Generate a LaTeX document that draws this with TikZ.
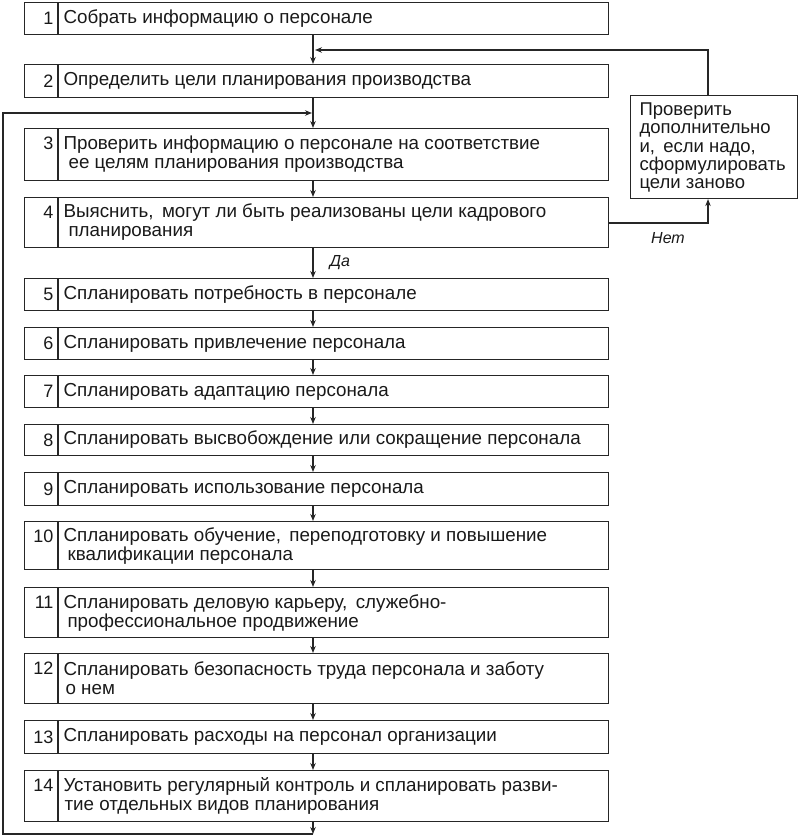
\documentclass[tikz,border=0pt]{standalone}
\usepackage{fontspec}
\setmainfont{Liberation Sans}
\usetikzlibrary{arrows.meta}
\begin{document}
\begin{tikzpicture}[x=1pt,y=-1pt,
  line width=1.1pt, color=black!85,
  box/.style={draw=black!85, rectangle, inner sep=0pt, anchor=north west, minimum width=584pt},
  txt/.style={inner sep=0pt, anchor=west, align=left, text=black!90, font=\fontsize{18.8}{19}\selectfont},
  num/.style={inner sep=0pt, anchor=east, text=black!90, font=\fontsize{18}{19}\selectfont},
  lbl/.style={inner sep=0pt, text=black!90, font=\fontsize{16}{18}\selectfont\itshape},
  arr/.style={-{Stealth[length=7pt,width=5.5pt]}}]
\useasboundingbox (0,0) rectangle (799,838);
\newcommand\onebox[5]{%
  \node[box, minimum height=#4pt] (#1) at (24,#3) {};
  \draw ([xshift=34pt]#1.north west) -- ([xshift=34pt]#1.south west);
  \node[num] (#1n) at ([xshift=30pt]#1.west) {#2};
  \node[txt] (#1t) at ([xshift=39pt]#1.west) {#5};}
\newcommand\twobox[5]{%
  \node[box, minimum height=#4pt] (#1) at (24,#3) {};
  \draw ([xshift=34pt]#1.north west) -- ([xshift=34pt]#1.south west);
  \node[num] (#1n) at ([xshift=30pt,yshift=-15pt]#1.north west) {#2};
  \node[txt] (#1t) at ([xshift=39pt]#1.west) {#5};}
\onebox{b1}{1}{2}{32}{Собрать информацию о персонале}
\onebox{b2}{2}{64}{33}{Определить цели планирования производства}
\twobox{b3}{3}{128}{52}{Проверить информацию о персонале на соответствие\\\hspace*{5pt}ее целям планирования производства}
\twobox{b4}{4}{197}{50}{Выяснить,\, могут ли быть реализованы цели кадрового\\\hspace*{5pt}планирования}
\onebox{b5}{5}{278}{32}{Спланировать потребность в персонале}
\onebox{b6}{6}{327}{32}{Спланировать привлечение персонала}
\onebox{b7}{7}{375}{32}{Спланировать адаптацию персонала}
\onebox{b8}{8}{424}{31}{Спланировать высвобождение или сокращение персонала}
\onebox{b9}{9}{472}{33}{Спланировать использование персонала}
\twobox{b10}{10}{521}{48}{Спланировать обучение,\, переподготовку и повышение\\\hspace*{4pt}квалификации персонала}
\twobox{b11}{11}{587}{50}{Спланировать деловую карьеру,\, служебно-\\\hspace*{4pt}профессиональное продвижение}
\twobox{b12}{12}{653}{50}{Спланировать безопасность труда персонала и заботу\\\hspace*{2pt}о нем}
\onebox{b13}{13}{720}{33}{Спланировать расходы на персонал организации}
\twobox{b14}{14}{770}{51}{Установить регулярный контроль и спланировать разви-\\\hspace*{1pt}тие отдельных видов планирования}
% check box
\node[draw=black!85, rectangle, inner sep=0pt, anchor=north west, minimum width=167pt, minimum height=103pt] (chk) at (630,95) {};
\node[inner sep=0pt, anchor=north west, align=left, text=black!90, font=\fontsize{18.5}{18.4}\selectfont] (chkt) at (639,102) {Проверить\\дополнительно\\и,\, если надо,\\сформулировать\\цели заново};
% arrows
\coordinate (ax) at (313,0);
\draw[arr] (b1.south -| ax) -- (b2.north -| ax);
\draw[arr] (b2.south -| ax) -- (b3.north -| ax);
\draw[arr] (b3.south -| ax) -- (b4.north -| ax);
\draw[arr] (b4.south -| ax) -- (b5.north -| ax);
\draw[arr] (b5.south -| ax) -- (b6.north -| ax);
\draw[arr] (b6.south -| ax) -- (b7.north -| ax);
\draw[arr] (b7.south -| ax) -- (b8.north -| ax);
\draw[arr] (b8.south -| ax) -- (b9.north -| ax);
\draw[arr] (b9.south -| ax) -- (b10.north -| ax);
\draw[arr] (b10.south -| ax) -- (b11.north -| ax);
\draw[arr] (b11.south -| ax) -- (b12.north -| ax);
\draw[arr] (b12.south -| ax) -- (b13.north -| ax);
\draw[arr] (b13.south -| ax) -- (b14.north -| ax);
% feedback loop bottom
\coordinate (lb) at (313,834);
\coordinate (ll) at (3,834);
\coordinate (lt) at (3,113);
\coordinate (lj) at (312,113);
\draw[arr] (b14.south -| ax) -- (lb);
\draw[arr] (lb) -- (ll) -- (lt) -- (lj);
% no loop
\coordinate (nr) at (708,223);
\coordinate (nt) at (708,50);
\coordinate (nj) at (315,50);
\draw[arr] (b4.east |- nr) -- (nr) -- (chk.south -| nr);
\draw[arr] (chk.north -| nr) -- (nt) -- (nj);
\node[lbl] (da) at (340,263) {Да};
\node[lbl] (net) at (668,238) {Нет};
\end{tikzpicture}
\end{document}
